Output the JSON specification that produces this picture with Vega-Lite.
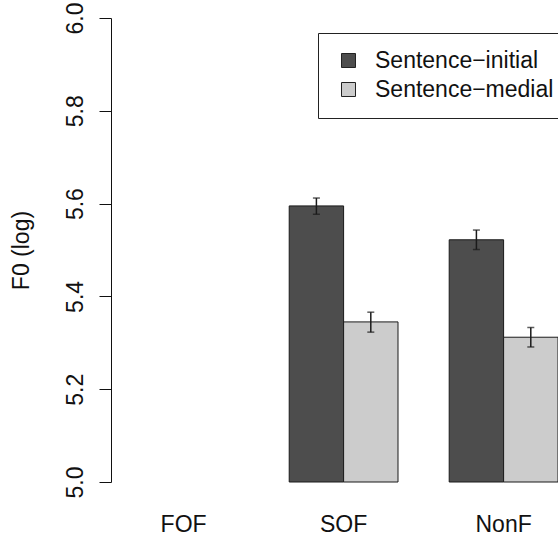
{
  "$schema": "https://vega.github.io/schema/vega-lite/v6.json",
  "autosize": "none",
  "width": 447,
  "height": 464,
  "padding": {"left": 111, "top": 18, "right": 0, "bottom": 53},
  "background": "white",
  "config": {
    "view": {"stroke": null},
    "font": "Liberation Sans",
    "axis": {"grid": false, "labelFont": "Liberation Sans", "titleFont": "Liberation Sans", "labelColor": "#111", "titleColor": "#111", "titleFontWeight": "normal"},
    "legend": {"labelFont": "Liberation Sans"}
  },
  "data": {
    "values": [
      {"focus": "SOF", "position": "Sentence−initial", "mean": 5.595, "lo": 5.577, "hi": 5.612},
      {"focus": "SOF", "position": "Sentence−medial", "mean": 5.345, "lo": 5.323, "hi": 5.366},
      {"focus": "NonF", "position": "Sentence−initial", "mean": 5.522, "lo": 5.501, "hi": 5.543},
      {"focus": "NonF", "position": "Sentence−medial", "mean": 5.312, "lo": 5.291, "hi": 5.333}
    ]
  },
  "encoding": {
    "x": {
      "field": "focus",
      "type": "nominal",
      "sort": null,
      "scale": {"domain": ["FOF", "SOF", "NonF"], "paddingInner": 0.32, "paddingOuter": 0.0569, "align": 1},
      "axis": {"title": null, "domain": false, "ticks": false, "tickSize": 0, "labelAngle": 0, "labelFontSize": 23, "labelPadding": 49, "labelBaseline": "alphabetic"}
    },
    "xOffset": {"field": "position", "type": "nominal", "scale": {"domain": ["Sentence−initial", "Sentence−medial"]}}
  },
  "layer": [
    {
      "mark": {"type": "bar", "stroke": "#1a1a1a", "strokeWidth": 1},
      "encoding": {
        "y": {
          "field": "mean",
          "type": "quantitative",
          "scale": {"domain": [5, 6], "zero": false, "nice": false},
          "axis": {
            "title": "F0 (log)",
            "values": [5.0, 5.2, 5.4, 5.6, 5.8, 6.0],
            "format": ".1f",
            "domainColor": "#111",
            "tickColor": "#111",
            "tickSize": 12,
            "labelAngle": -90,
            "labelAlign": "center",
            "labelBaseline": "alphabetic",
            "labelPadding": 17,
            "labelFontSize": 23,
            "labelFlush": false,
            "labelOverlap": false,
            "titleFontSize": 23,
            "titleAngle": -90,
            "titleAlign": "center",
            "titleBaseline": "alphabetic",
            "titleX": -83,
            "titleY": 232
          }
        },
        "y2": {"datum": 5},
        "color": {
          "field": "position",
          "type": "nominal",
          "scale": {"domain": ["Sentence−initial", "Sentence−medial"], "range": ["#4d4d4d", "#cccccc"]},
          "legend": {
            "title": null,
            "orient": "none",
            "legendX": 207,
            "legendY": 15,
            "padding": 16,
            "strokeColor": "#222",
            "fillColor": "white",
            "symbolType": "square",
            "symbolSize": 196,
            "symbolStrokeColor": "#222",
            "symbolStrokeWidth": 1,
            "symbolOffset": 3,
            "labelOffset": 15,
            "labelFontSize": 23,
            "labelColor": "#111",
            "labelLimit": 400,
            "rowPadding": 5
          }
        }
      }
    },
    {
      "mark": {"type": "rule", "color": "#1a1a1a", "strokeWidth": 1.5},
      "encoding": {
        "y": {"field": "lo", "type": "quantitative"},
        "y2": {"field": "hi"}
      }
    },
    {
      "mark": {"type": "tick", "color": "#1a1a1a", "thickness": 1.5, "size": 7},
      "encoding": {"y": {"field": "lo", "type": "quantitative"}}
    },
    {
      "mark": {"type": "tick", "color": "#1a1a1a", "thickness": 1.5, "size": 7},
      "encoding": {"y": {"field": "hi", "type": "quantitative"}}
    }
  ]
}
